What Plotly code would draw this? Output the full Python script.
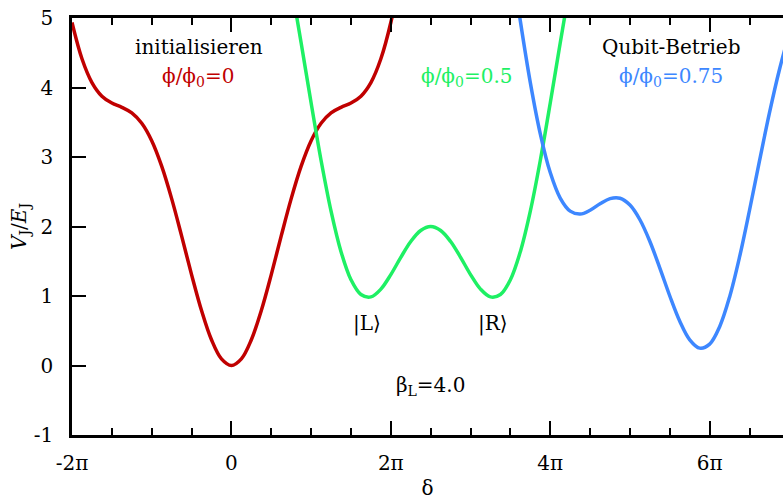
import plotly.graph_objects as go

# delta in units of pi, potential V_J/E_J (beta_L = 4.0)
delta_red = [-2.0, -1.875, -1.75, -1.625, -1.5, -1.375, -1.25, -1.125, -1.0, -0.875, -0.75, -0.625,
             -0.5, -0.375, -0.25, -0.125, 0.0, 0.125, 0.25, 0.375, 0.5, 0.625, 0.75, 0.875,
             1.0, 1.125, 1.25, 1.375, 1.5, 1.625, 1.75, 1.875, 2.0, 2.125]
v_red = [4.935, 4.413, 4.071, 3.875, 3.776, 3.715, 3.635, 3.485, 3.234, 2.868, 2.401, 1.865,
         1.308, 0.791, 0.370, 0.095, 0.0, 0.095, 0.370, 0.791, 1.308, 1.865, 2.401, 2.868,
         3.234, 3.485, 3.635, 3.715, 3.776, 3.875, 4.071, 4.413, 4.935, 5.647]

delta_green = [0.75, 0.875, 1.0, 1.125, 1.25, 1.375, 1.5, 1.625, 1.75, 1.875, 2.0, 2.125, 2.25,
               2.375, 2.5, 2.625, 2.75, 2.875, 3.0, 3.125, 3.25, 3.375, 3.5, 3.625, 3.75,
               3.875, 4.0, 4.125, 4.25]
v_green = [5.485, 4.640, 3.776, 2.950, 2.221, 1.638, 1.234, 1.021, 0.987, 1.099, 1.308, 1.556, 1.784,
           1.943, 2.0, 1.943, 1.784, 1.556, 1.308, 1.099, 0.987, 1.021, 1.234, 1.638, 2.221,
           2.950, 3.776, 4.640, 5.485]

delta_blue = [3.5, 3.625, 3.75, 3.875, 4.0, 4.125, 4.25, 4.375, 4.5, 4.625, 4.75, 4.875, 5.0,
              5.125, 5.25, 5.375, 5.5, 5.625, 5.75, 5.875, 6.0, 6.125, 6.25, 6.375, 6.5,
              6.625, 6.75, 6.875, 7.0, 7.125]
v_blue = [5.935, 4.955, 4.071, 3.334, 2.776, 2.409, 2.221, 2.179, 2.234, 2.327, 2.401, 2.406, 2.308,
          2.097, 1.784, 1.402, 1.0, 0.637, 0.370, 0.250, 0.308, 0.558, 0.987, 1.562, 2.234,
          2.944, 3.635, 4.256, 4.776, 5.182]

x_tickvals = [-2, 0, 2, 4, 6]
x_ticktext = ["-2π", "0", "2π", "4π", "6π"]
y_tickvals = [-1, 0, 1, 2, 3, 4, 5]
y_ticktext = ["-1", "0", "1", "2", "3", "4", "5"]

RED = "#c00000"
GREEN = "#1ef064"
BLUE = "#3d87ff"
FONT = "DejaVu Serif"
FS = 20

fig = go.Figure()
for xs, ys, col in [(delta_red, v_red, RED), (delta_green, v_green, GREEN), (delta_blue, v_blue, BLUE)]:
    fig.add_trace(go.Scatter(x=xs, y=ys, mode="lines",
                             line=dict(color=col, width=3.5, shape="spline", smoothing=1.0),
                             showlegend=False, hoverinfo="skip"))

fig.update_layout(
    width=783, height=500,
    margin=dict(l=72, r=0, t=18, b=65),
    plot_bgcolor="white", paper_bgcolor="white",
    font=dict(family=FONT, size=FS, color="black"),
    xaxis=dict(range=[-2, 6.92], tickmode="array", tickvals=x_tickvals, ticktext=x_ticktext,
               ticks="inside", ticklen=14, tickwidth=2, tickcolor="black",
               showline=True, linewidth=2.5, linecolor="black", mirror="ticks",
               showgrid=False, zeroline=False, ticklabelstandoff=8,
               minor=dict(dtick=0.5, tick0=-2, ticks="inside", ticklen=7, tickwidth=2,
                          tickcolor="black", showgrid=False),
               title=dict(text="δ", standoff=12, font=dict(size=FS))),
    yaxis=dict(range=[-1, 5], tickmode="array", tickvals=y_tickvals, ticktext=y_ticktext,
               ticks="inside", ticklen=14, tickwidth=2, tickcolor="black",
               showline=True, linewidth=2.5, linecolor="black", mirror=False,
               showgrid=False, zeroline=False, ticklabelstandoff=12,
               title=dict(text="<i>V</i><sub>J</sub>/<i>E</i><sub>J</sub>", standoff=2,
                          font=dict(size=FS))),
    yaxis2=dict(range=[-1, 5], overlaying="y", side="right", tickmode="array",
                tickvals=y_tickvals, ticks="inside", ticklen=7, tickwidth=2, tickcolor="black",
                showticklabels=False, showline=False, showgrid=False, zeroline=False),
)

ann = [
    ("initialisieren", -0.41, 4.58, "black"),
    ("ϕ/ϕ<sub>0</sub>=0", -0.42, 4.15, RED),
    ("ϕ/ϕ<sub>0</sub>=0.5", 2.95, 4.15, GREEN),
    ("Qubit-Betrieb", 5.52, 4.58, "black"),
    ("ϕ/ϕ<sub>0</sub>=0.75", 5.51, 4.15, BLUE),
    ("|L⟩", 1.70, 0.61, "black"),
    ("|R⟩", 3.28, 0.61, "black"),
    ("β<sub>L</sub>=4.0", 2.5, -0.30, "black"),
]
for text, x, y, col in ann:
    fig.add_annotation(x=x, y=y, xref="x", yref="y", text=text, showarrow=False,
                       font=dict(family=FONT, size=FS, color=col))

fig.write_html("out.html")
